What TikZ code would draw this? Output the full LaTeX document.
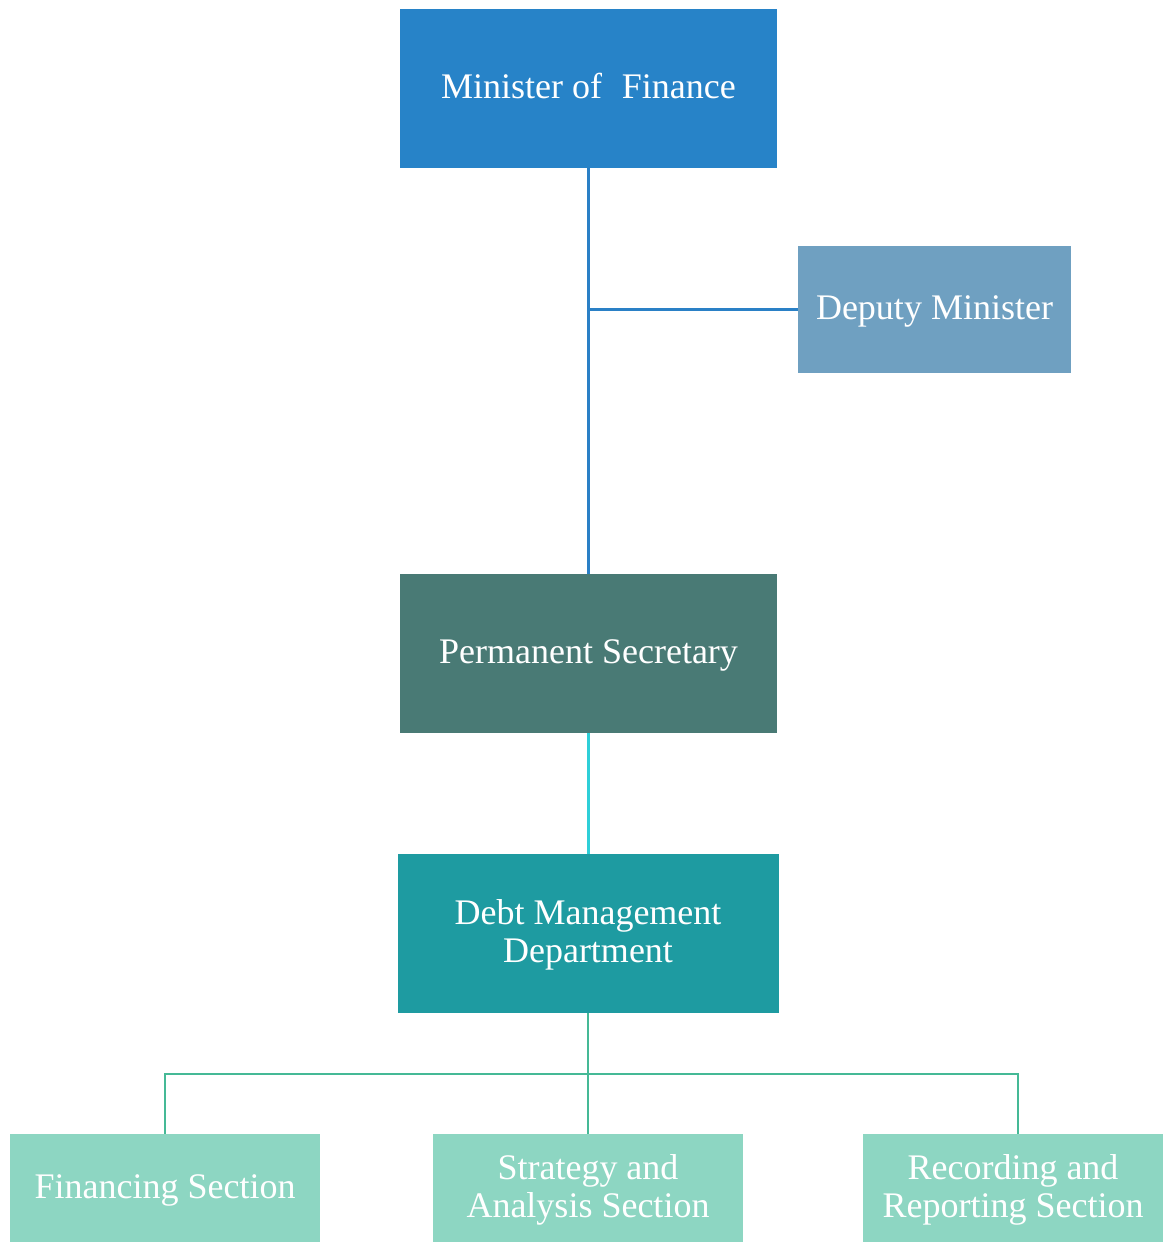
\documentclass[tikz,border=0pt]{standalone}
\usepackage{fontspec}
\setmainfont{Liberation Serif}
\definecolor{cMin}{HTML}{2783C8}
\definecolor{cDep}{HTML}{6FA0C1}
\definecolor{cPerm}{HTML}{497A75}
\definecolor{cDebt}{HTML}{1E9BA1}
\definecolor{cSec}{HTML}{8DD6C2}
\definecolor{lBlue}{HTML}{2A80C6}
\definecolor{lCyan}{HTML}{2ECFD8}
\definecolor{lGreen}{HTML}{45B996}
\newcommand{\twolines}[2]{\begin{tabular}[t]{@{}c@{}}#1\\#2\end{tabular}}
\tikzset{
  box/.style={rectangle, inner sep=0pt, text=white,
    font=\fontsize{36}{38}\selectfont},
  oneline/.style={text height=28pt, text depth=8pt},
  twoline/.style={text height=28pt, text depth=46pt},
  conn/.style={line width=2.5pt},
}
\begin{document}
\begin{tikzpicture}[x=1pt,y=-1pt]
\useasboundingbox (0,0) rectangle (1164,1243);
\node[box, oneline, fill=cMin, minimum width=377pt, minimum height=159pt] (min) at (588.5,88.5) {Minister of\hspace{0.3em} Finance};
\node[box, oneline, fill=cDep, minimum width=273pt, minimum height=127pt] (dep) at (934.5,309.5) {Deputy Minister};
\node[box, oneline, fill=cPerm, minimum width=377pt, minimum height=159pt] (perm) at (588.5,653.5) {Permanent Secretary};
\node[box, twoline, fill=cDebt, minimum width=381pt, minimum height=159pt] (debt) at (588,933.5) {\twolines{Debt Management}{Department}};
\node[box, oneline, fill=cSec, minimum width=310pt, minimum height=108pt] (fin) at (165,1188) {Financing Section};
\node[box, twoline, fill=cSec, minimum width=310pt, minimum height=108pt] (str) at (588,1188) {\twolines{Strategy and}{Analysis Section}};
\node[box, twoline, fill=cSec, minimum width=300pt, minimum height=108pt] (rec) at (1013,1188) {\twolines{Recording and}{Reporting Section}};
\coordinate (bus) at (588,1074);
\draw[conn, lBlue] (min.south) -- (perm.north);
\draw[conn, lBlue] (dep.west) -- (dep.west -| min.south);
\draw[conn, lCyan, line width=3pt] (perm.south -| debt.north) -- (debt.north);
\draw[conn, lGreen] (debt.south) -- (bus);
\draw[conn, lGreen] (bus) -| (fin.north);
\draw[conn, lGreen] (bus) -- (str.north);
\draw[conn, lGreen] (bus) -| ([xshift=5pt]rec.north);
\end{tikzpicture}
\end{document}
